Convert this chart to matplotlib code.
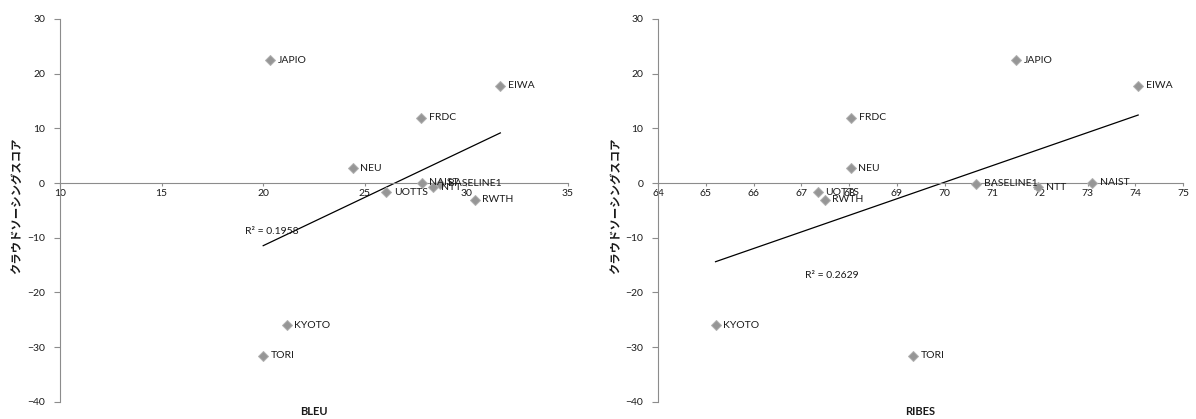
import numpy as np
import matplotlib
matplotlib.use("Agg")
import matplotlib.pyplot as plt

# System names and scores
systems = ["JAPIO", "EIWA", "FRDC", "NEU", "NAIST", "BASELINE1",
           "NTT", "UOTTS", "RWTH", "KYOTO", "TORI"]
crowd_score = [22.5, 17.8, 11.95, 2.7, 0.05, -0.1, -0.8, -1.7, -3.1, -26.0, -31.6]
bleu = [20.35, 31.67, 27.77, 24.4, 27.8, 28.7, 28.35, 26.05, 30.4, 21.15, 20.0]
ribes = [71.5, 74.06, 68.04, 68.03, 73.1, 70.67, 71.97, 67.34, 67.49, 65.2, 69.35]

bleu_ticks = [10, 15, 20, 25, 30, 35]
ribes_ticks = list(range(64, 76))
y_ticks = [-40, -30, -20, -10, 0, 10, 20, 30]

r2_text = ["R² = 0.1958", "R² = 0.2629"]
r2_pos = [(19.1, -8.85), (67.08, -16.9)]

ylabel = "クラウドソーシングスコア"
latin = "Lato"
cjk = ["Noto Sans CJK JP", "DejaVu Sans"]
axis_grey = "#8c8c8c"
text_col = "#1a1a1a"
marker_col = "#969696"

fig = plt.figure(figsize=(11.96, 4.19), dpi=100)
ax_l = fig.add_axes([60 / 1196, 1 - 401.7 / 419, 508 / 1196, 382.7 / 419])
ax_r = fig.add_axes([658.3 / 1196, 1 - 401.7 / 419, 524.7 / 1196, 382.7 / 419])

panels = [
    (ax_l, bleu, bleu_ticks, "BLEU", r2_text[0], r2_pos[0]),
    (ax_r, ribes, ribes_ticks, "RIBES", r2_text[1], r2_pos[1]),
]

for ax, xs, xt, xlabel, r2, r2xy in panels:
    ax.set_xlim(xt[0], xt[-1])
    ax.set_ylim(-40, 30)

    # linear trend line over the data range
    xs_arr = np.asarray(xs)
    slope, icpt = np.polyfit(xs_arr, crowd_score, 1)
    xl = np.array([xs_arr.min(), xs_arr.max()])
    ax.plot(xl, slope * xl + icpt, color="black", lw=0.9, zorder=2)

    ax.plot(xs, crowd_score, linestyle="none", marker="D", markersize=5,
            color=marker_col, markeredgecolor="#b0b0b0", markeredgewidth=0.7,
            zorder=3)
    for name, x, y in zip(systems, xs, crowd_score):
        ax.annotate(name, (x, y), xytext=(5.5, 0), textcoords="offset points",
                    ha="left", va="center", fontsize=7.5, family=latin,
                    color=text_col, zorder=4)

    ax.text(r2xy[0], r2xy[1], r2, ha="left", va="center", fontsize=7.5,
            family=latin, color=text_col)

    for s in ("top", "right"):
        ax.spines[s].set_visible(False)
    ax.spines["left"].set_color(axis_grey)
    ax.spines["bottom"].set_color(axis_grey)
    ax.spines["left"].set_linewidth(0.8)
    ax.spines["bottom"].set_linewidth(0.8)
    ax.spines["bottom"].set_position(("data", 0))

    ax.set_xticks(xt)
    ax.set_yticks(y_ticks)
    ax.tick_params(axis="y", direction="out", length=4.3, width=0.8,
                   color=axis_grey, pad=6.5, labelsize=7.5, labelcolor=text_col)
    ax.tick_params(axis="x", direction="out", length=2.5, width=0.8,
                   color=axis_grey, pad=1.5, labelsize=7.5, labelcolor=text_col)
    for lab in ax.get_xticklabels() + ax.get_yticklabels():
        lab.set_family(latin)

    # axis titles placed in figure pixels
    bb = ax.get_position()
    fig.text(bb.x0 + bb.width / 2, 1 - 411 / 419, xlabel, ha="center",
             va="center", fontsize=8, fontweight="bold", family=latin,
             color=text_col)
    fig.text(bb.x0 - 43 / 1196, 1 - 206 / 419, ylabel, rotation=90,
             ha="center", va="center", fontsize=8.2, fontweight="bold",
             family=cjk, color=text_col)

fig.savefig("out.png", dpi=100, facecolor="white")
